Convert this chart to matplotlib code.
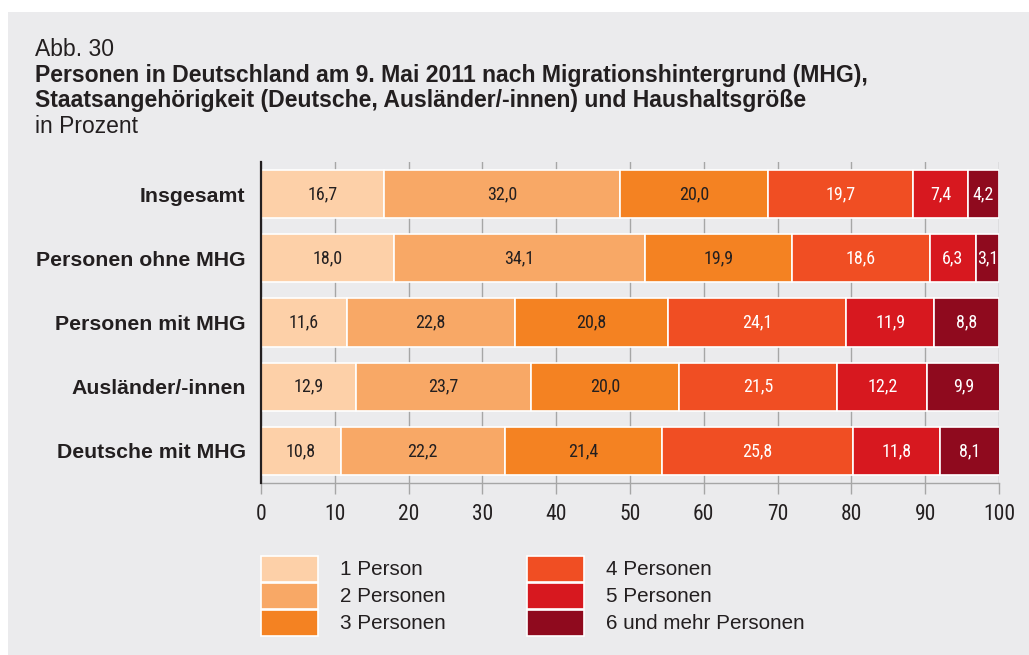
import matplotlib
matplotlib.use("Agg")
import matplotlib.pyplot as plt
from matplotlib.patches import Rectangle
from matplotlib import font_manager

categories = ["Insgesamt", "Personen ohne MHG", "Personen mit MHG",
              "Ausländer/-innen", "Deutsche mit MHG"]
series_names = ["1 Person", "2 Personen", "3 Personen",
                "4 Personen", "5 Personen", "6 und mehr Personen"]
p1 = [16.7, 18.0, 11.6, 12.9, 10.8]
p2 = [32.0, 34.1, 22.8, 23.7, 22.2]
p3 = [20.0, 19.9, 20.8, 20.0, 21.4]
p4 = [19.7, 18.6, 24.1, 21.5, 25.8]
p5 = [7.4, 6.3, 11.9, 12.2, 11.8]
p6 = [4.2, 3.1, 8.8, 9.9, 8.1]
series = [p1, p2, p3, p4, p5, p6]
xticks = [0, 10, 20, 30, 40, 50, 60, 70, 80, 90, 100]

colors = ["#fdd0a8", "#f8a866", "#f48222", "#f04e23", "#d7181f", "#8f0a1e"]
text_colors = ["#231f20", "#231f20", "#231f20", "white", "white", "white"]
panel = "#ebebed"
ink = "#231f20"

installed = {f.name for f in font_manager.fontManager.ttflist}
sans = "Liberation Sans"
cond = next((f for f in ["Roboto Condensed", "Barlow Semi Condensed", "Archivo Narrow",
                         "Liberation Sans Narrow"] if f in installed), sans)

W, H = 1029, 655
fig = plt.figure(figsize=(W / 100, H / 100), dpi=100)
fig.patch.set_facecolor("white")


def fx(px):
    return px / W


def fy(py):
    return 1 - py / H


# grey panel behind everything
fig.patches.append(Rectangle((fx(8), 0), 1 - fx(8), fy(12), transform=fig.transFigure,
                             facecolor=panel, edgecolor="none", zorder=-10))

# titles
fig.text(fx(35), fy(56), "Abb. 30", family=sans, fontsize=16.5, color=ink, va="baseline")
fig.text(fx(35), fy(82), "Personen in Deutschland am 9. Mai 2011 nach Migrationshintergrund (MHG),",
         family=sans, fontsize=16.6, fontweight="bold", color=ink, va="baseline")
fig.text(fx(35), fy(107), "Staatsangehörigkeit (Deutsche, Ausländer/-innen) und Haushaltsgröße",
         family=sans, fontsize=16.6, fontweight="bold", color=ink, va="baseline")
fig.text(fx(35), fy(133), "in Prozent", family=sans, fontsize=16.5, color=ink, va="baseline")

# main axes
ax = fig.add_axes([fx(261), fy(483), fx(999) - fx(261), fy(162) - fy(483)])
ax.set_facecolor("none")
ax.set_xlim(0, 100)
ax.set_ylim(4.5, -0.5)

ypos = list(range(len(categories)))
left = [0.0] * len(categories)
for vals, col, tcol in zip(series, colors, text_colors):
    bars = ax.barh(ypos, vals, left=left, height=0.75, color=col,
                   edgecolor="white", linewidth=1.2, zorder=3)
    for b, v in zip(bars, vals):
        ax.text(b.get_x() + b.get_width() / 2, b.get_y() + b.get_height() / 2,
                f"{v:.1f}".replace(".", ","), ha="center", va="center",
                family=cond, fontsize=13, color=tcol, zorder=4)
    left = [l + v for l, v in zip(left, vals)]

ax.set_xticks(xticks)
ax.set_xticklabels([str(t) for t in xticks], family=cond, fontsize=15.5, color=ink)
ax.set_yticks(ypos)
ax.set_yticklabels(categories, family=sans, fontsize=15.3, fontweight="bold", color=ink)
ax.tick_params(axis="y", length=0, pad=11)
ax.tick_params(axis="x", length=8, width=1, color="#a6a6a6", pad=7)
ax.xaxis.grid(True, color="#a6a6a6", linewidth=1, zorder=1)
ax.set_axisbelow(True)
for s in ["top", "right"]:
    ax.spines[s].set_visible(False)
ax.spines["bottom"].set_color("#a6a6a6")
ax.spines["bottom"].set_linewidth(1)
ax.spines["left"].set_color(ink)
ax.spines["left"].set_linewidth(1.6)
ax.spines["left"].set_zorder(5)

# legend drawn in pixel coordinates
lax = fig.add_axes([0, 0, 1, 1])
lax.set_xlim(0, W)
lax.set_ylim(H, 0)
lax.axis("off")
col_x = [261, 527]
row_top = [556, 583, 610]
for i, (name, col) in enumerate(zip(series_names, colors)):
    cx = col_x[i // 3]
    ry = row_top[i % 3]
    lax.add_patch(Rectangle((cx, ry), 57, 26, facecolor=col, edgecolor="white", linewidth=1.2))
    lax.text(cx + 79, ry + 13.5, name, family=sans, fontsize=14.9, color=ink, va="center")

fig.savefig("out.png", dpi=100, facecolor=fig.get_facecolor())
